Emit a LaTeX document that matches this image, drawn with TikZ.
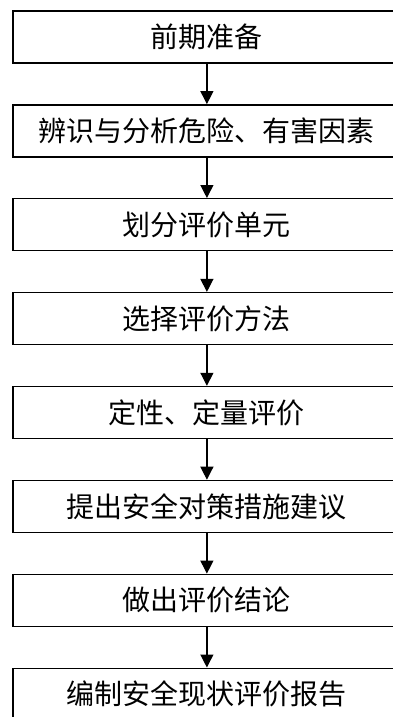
\documentclass[tikz,border=0pt]{standalone}
\usepackage{fontspec}
\newfontfamily\cjk{Noto Sans CJK SC}
\usepackage{tikz}
\usetikzlibrary{matrix,arrows.meta}

\begin{document}
\begin{tikzpicture}

    \useasboundingbox (0,0) rectangle (393pt,-717pt);

    \matrix[matrix of nodes, row sep=40.5pt, inner sep=0pt, anchor=north west,
        nodes={draw, line width=1.4pt, minimum width=388pt, minimum height=52pt,
               inner sep=0pt, font=\cjk\fontsize{28pt}{31pt}\selectfont}]
        (mat) at (12pt,-10pt)
    {
        前期准备 \\
        辨识与分析危险、有害因素 \\
        划分评价单元 \\
        选择评价方法 \\
        定性、定量评价 \\
        提出安全对策措施建议 \\
        做出评价结论 \\
        编制安全现状评价报告 \\
    };

    \foreach \i [count=\j from 2] in {1,...,7}
        \draw[-{Triangle[width=13pt,length=13pt]},line width=1.2pt] (mat-\i-1) -- (mat-\j-1);

\end{tikzpicture}
\end{document}
